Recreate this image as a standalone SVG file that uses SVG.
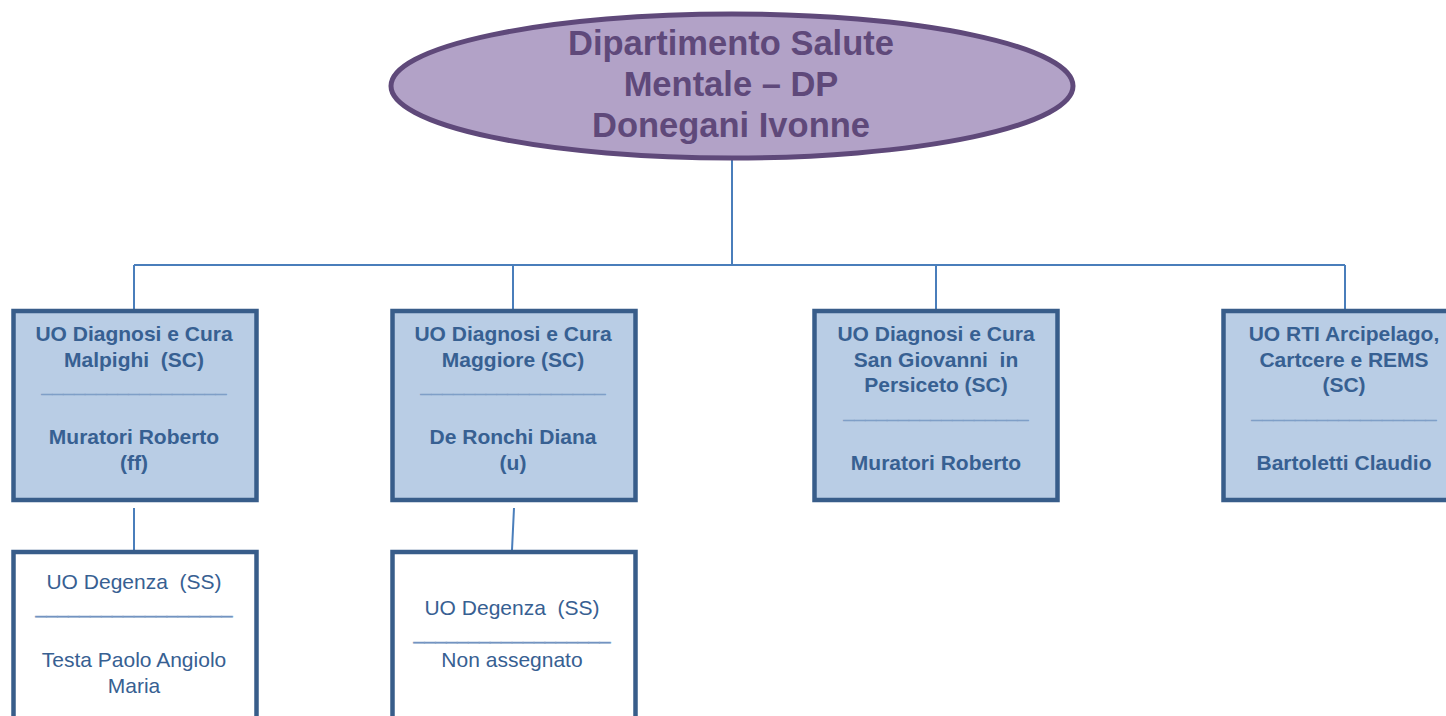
<svg xmlns="http://www.w3.org/2000/svg" width="1446" height="716" viewBox="0 0 1446 716">
<style>
.conn{stroke:#4a7ebb;stroke-width:2;fill:none}
.box{fill:#b9cde5;stroke:#385d8a;stroke-width:4.5}
.sub{fill:#ffffff;stroke:#385d8a;stroke-width:4.5}
.bt{font-family:"Liberation Sans",Arial,sans-serif;font-weight:bold;font-size:21px;fill:#376092;text-anchor:middle}
.rt{font-family:"Liberation Sans",Arial,sans-serif;font-size:21px;fill:#376092;text-anchor:middle}
.ul{fill:#6f8fbf;stroke:#7f9fc7;stroke-width:0.6}
.et{font-family:"Liberation Sans",Arial,sans-serif;font-weight:bold;font-size:34.5px;fill:#5f497a;text-anchor:middle}
</style>
<rect width="1446" height="716" fill="#ffffff"/>
<g id="connectors">
<path class="conn" d="M732 158 V265 M134 265 H1345 M134 265 V310 M513 265 V310 M936 265 V310 M1345 265 V310"/>
<path class="conn" d="M134 508 V550 M514 508 L512 550"/>
</g>
<g id="dsm">
<ellipse cx="732" cy="86" rx="341" ry="72" fill="#b2a2c7" stroke="#5f497a" stroke-width="5"/>
<text class="et" x="731" y="55">Dipartimento Salute</text>
<text class="et" x="731" y="96">Mentale – DP</text>
<text class="et" x="731" y="137">Donegani Ivonne</text>
</g>
<g id="malpighi">
<rect class="box" x="13.5" y="311" width="243" height="189"/>
<text class="bt" x="134" y="341">UO Diagnosi e Cura</text>
<text class="bt" x="134" y="366.7" xml:space="preserve">Malpighi  (SC)</text>
<text class="bt ul" x="134" y="392.4" textLength="185" lengthAdjust="spacingAndGlyphs">_________________</text>
<text class="bt" x="134" y="443.8">Muratori Roberto</text>
<text class="bt" x="134" y="469.5">(ff)</text>
</g>
<g id="maggiore">
<rect class="box" x="392.5" y="311" width="243" height="189"/>
<text class="bt" x="513" y="341">UO Diagnosi e Cura</text>
<text class="bt" x="513" y="366.7">Maggiore (SC)</text>
<text class="bt ul" x="513" y="392.4" textLength="185" lengthAdjust="spacingAndGlyphs">_________________</text>
<text class="bt" x="513" y="443.8">De Ronchi Diana</text>
<text class="bt" x="513" y="469.5">(u)</text>
</g>
<g id="persiceto">
<rect class="box" x="814.5" y="311" width="243" height="189"/>
<text class="bt" x="936" y="341">UO Diagnosi e Cura</text>
<text class="bt" x="936" y="366.7" xml:space="preserve">San Giovanni  in</text>
<text class="bt" x="936" y="392.4">Persiceto (SC)</text>
<text class="bt ul" x="936" y="418.1" textLength="185" lengthAdjust="spacingAndGlyphs">_________________</text>
<text class="bt" x="936" y="469.5">Muratori Roberto</text>
</g>
<g id="rti">
<rect class="box" x="1223.5" y="311" width="243" height="189"/>
<text class="bt" x="1344" y="341">UO RTI Arcipelago,</text>
<text class="bt" x="1344" y="366.7">Cartcere e REMS</text>
<text class="bt" x="1344" y="392.4">(SC)</text>
<text class="bt ul" x="1344" y="418.1" textLength="185" lengthAdjust="spacingAndGlyphs">_________________</text>
<text class="bt" x="1344" y="469.5">Bartoletti Claudio</text>
</g>
<g id="degenza1">
<rect class="sub" x="13.5" y="552" width="243" height="189"/>
<text class="rt" x="134" y="589" xml:space="preserve">UO Degenza  (SS)</text>
<text class="rt ul" x="134" y="613" textLength="197" lengthAdjust="spacingAndGlyphs">__________________</text>
<text class="rt" x="134" y="667">Testa Paolo Angiolo</text>
<text class="rt" x="134" y="693">Maria</text>
</g>
<g id="degenza2">
<rect class="sub" x="392.5" y="552" width="243" height="189"/>
<text class="rt" x="512" y="615" xml:space="preserve">UO Degenza  (SS)</text>
<text class="rt ul" x="512" y="639" textLength="197" lengthAdjust="spacingAndGlyphs">__________________</text>
<text class="rt" x="512" y="667">Non assegnato</text>
</g>
</svg>
